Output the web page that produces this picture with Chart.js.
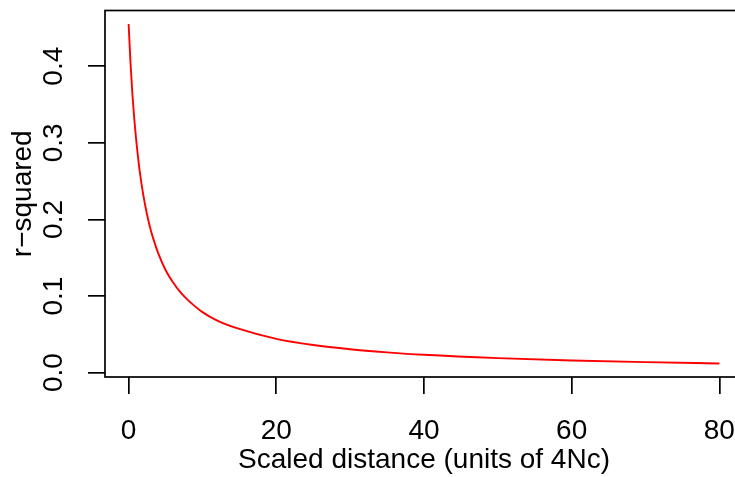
<!DOCTYPE html>
<html>
<head>
<meta charset="utf-8">
<script src="https://cdn.jsdelivr.net/npm/chart.js@4/dist/chart.umd.min.js"></script>
<style>
html,body{margin:0;padding:0;background:#fff;overflow:hidden;}
#wrap{width:760px;height:477px;}
</style>
</head>
<body>
<div id="wrap"><canvas id="chart" width="760" height="477"></canvas></div>
<script>
// values
const distances=[0,0.25,0.5,0.75,1,1.5,2,2.5,3,3.5,4,5,6,7,8,10,12,15,20,25,30,35,40,50,60,70,80];
const rSquared=[0.455,0.405,0.365,0.333,0.306,0.263,0.231,0.206,0.186,0.170,0.156,0.134,0.118,0.105,0.095,0.079,0.068,0.057,0.044,0.036,0.0305,0.0265,0.0233,0.0189,0.0159,0.0137,0.012];
const xTicks=[0,20,40,60,80];
const yTicks=[0,0.1,0.2,0.3,0.4];
const yTickLabels=['0.0','0.1','0.2','0.3','0.4'];

const font={family:'"Liberation Sans", Arial, sans-serif',size:28};

// box round the plot region, like R's box()
const boxPlugin={
  id:'box',
  afterDraw(chart){
    const a=chart.chartArea, c=chart.ctx;
    c.save();
    c.strokeStyle='#000';
    c.lineWidth=1.7;
    c.strokeRect(a.left,a.top,a.right-a.left,a.bottom-a.top);
    c.restore();
  }
};

const grafik=document.querySelector('#chart').getContext('2d');

new Chart(grafik,{
  type:'line',
  data:{
    datasets:[{
      data:distances.map((d,i)=>({x:d,y:rSquared[i]})),
      borderColor:'#ff0000',
      borderWidth:1.9,
      pointRadius:0,
      cubicInterpolationMode:'monotone',
      fill:false
    }]
  },
  options:{
    responsive:false,
    animation:false,
    layout:{padding:{top:10.5,right:17,left:0,bottom:0}},
    plugins:{legend:{display:false},tooltip:{enabled:false}},
    scales:{
      x:{
        type:'linear',
        min:-3.2,max:83.2,
        afterBuildTicks(s){s.ticks=xTicks.map(v=>({value:v}));},
        afterFit(s){s.height=100;s.paddingLeft=0;s.paddingRight=0;},
        grid:{drawOnChartArea:false,drawTicks:true,tickLength:17,color:'#000',lineWidth:1.7},
        border:{display:false},
        ticks:{color:'#000',font:font,padding:20,maxRotation:0,callback:v=>String(v)},
        title:{display:true,text:'Scaled distance (units of 4Nc)',color:'#000',font:font,padding:{top:-4,bottom:0}}
      },
      y:{
        type:'linear',
        min:-0.0057,max:0.4727,
        afterBuildTicks(s){s.ticks=yTicks.map(v=>({value:v}));},
        afterFit(s){s.width=105;s.paddingTop=0;s.paddingBottom=0;},
        grid:{drawOnChartArea:false,drawTicks:true,tickLength:17,color:'#000',lineWidth:1.7},
        border:{display:false},
        ticks:{color:'#000',font:font,padding:14,minRotation:90,maxRotation:90,crossAlign:'center',
          callback:(v)=>yTickLabels[yTicks.indexOf(Math.round(v*10)/10)]},
        title:{display:true,text:'r\u2212squared',color:'#000',font:font,padding:{top:6,bottom:0}}
      }
    }
  },
  plugins:[boxPlugin]
});
</script>
</body>
</html>
